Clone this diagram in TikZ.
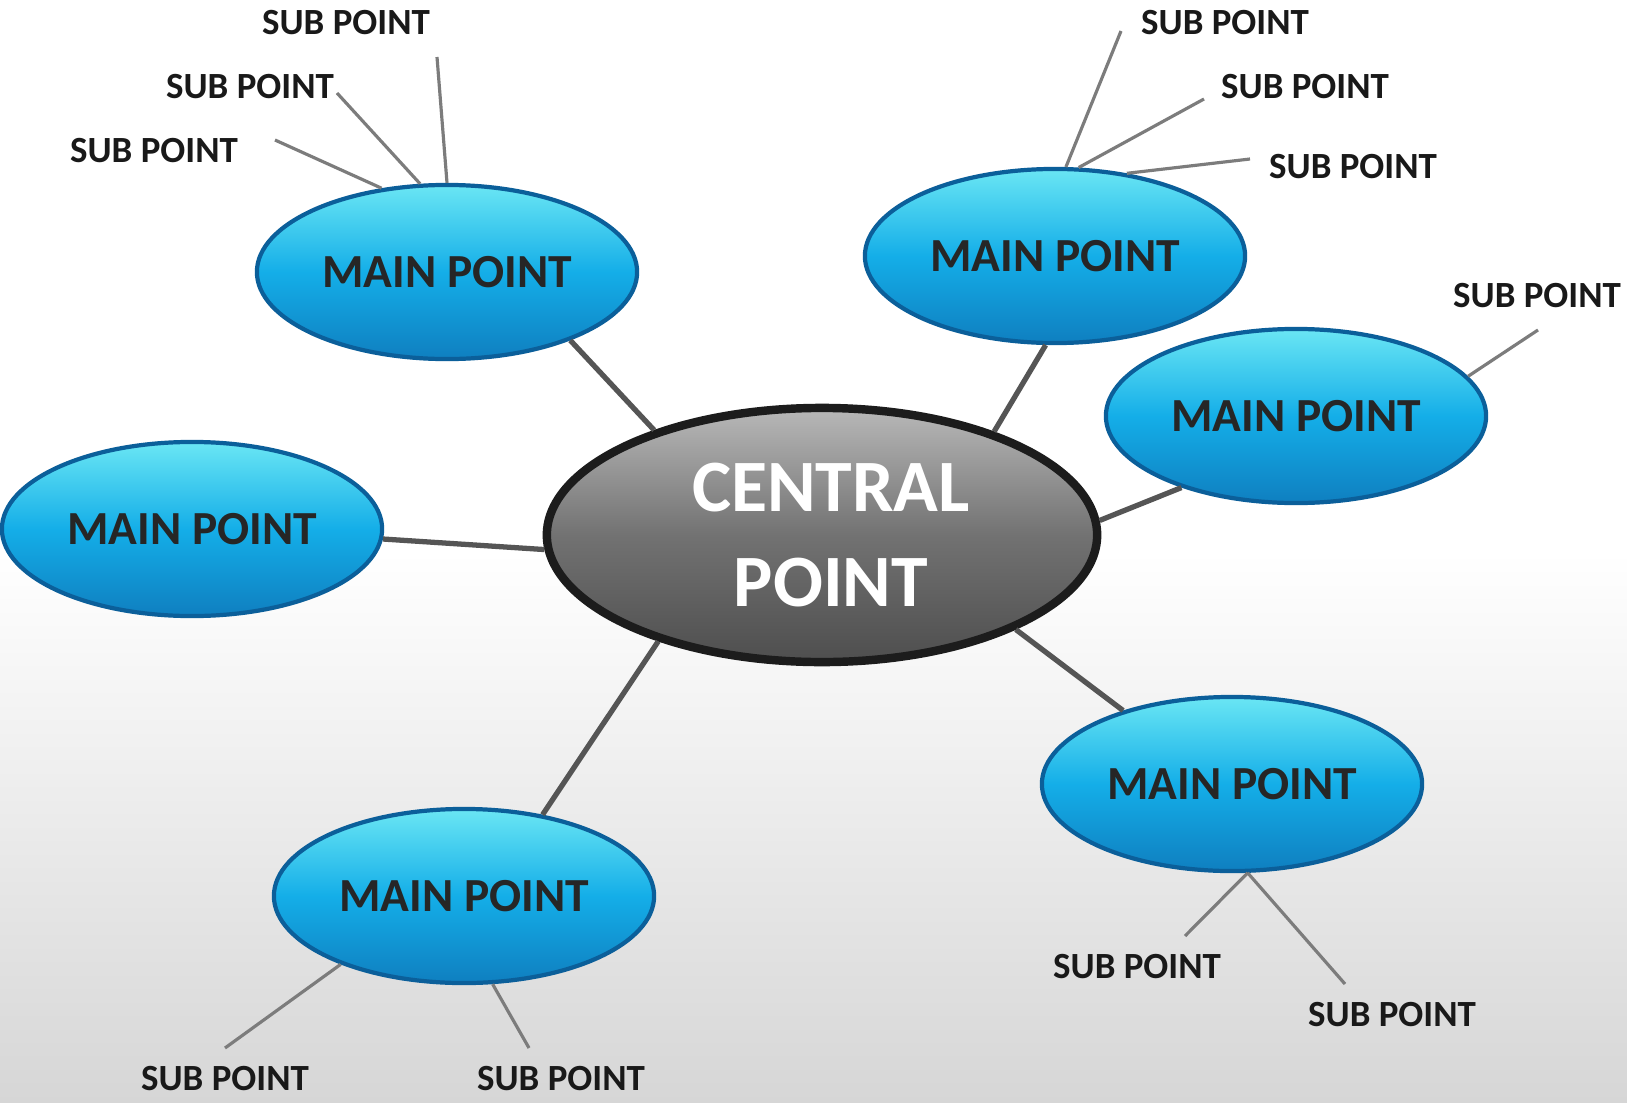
\documentclass[tikz,border=0pt]{standalone}
\usepackage{fontspec}
\setmainfont{Carlito}
\usepackage{tikz}
\usetikzlibrary{shapes.geometric}
\definecolor{bluTop}{HTML}{6AE6F4}
\definecolor{bluMid}{HTML}{14AEE8}
\definecolor{bluBot}{HTML}{0F7FC0}
\definecolor{bluEdge}{HTML}{0B5F9A}
\definecolor{grTop}{HTML}{B8B8B8}
\definecolor{grMid}{HTML}{727272}
\definecolor{grBot}{HTML}{4E4E4E}
\definecolor{grEdge}{HTML}{1C1C1C}
\definecolor{ramoCol}{HTML}{555555}
\definecolor{ramettoCol}{HTML}{7C7C7C}
\definecolor{sfondo}{HTML}{D6D6D6}

\begin{document}
\begin{tikzpicture}[x=0.01cm,y=-0.01cm,
	main/.style = {ellipse,minimum width=3.8cm,minimum height=1.74cm,inner sep=0pt,draw=bluEdge,line width=1.2pt,top color=bluTop,bottom color=bluBot,middle color=bluMid,text=black!85,font=\fontsize{13.5}{16}\selectfont\bfseries},
	centrale/.style = {ellipse,minimum width=5.5cm,minimum height=2.54cm,inner sep=0pt,draw=grEdge,line width=2.4pt,top color=grTop,bottom color=grBot,middle color=grMid,text=white,align=center,font=\fontsize{21}{27}\selectfont\bfseries},
	sub/.style = {text=black!90,font=\fontsize{10.5}{12}\selectfont\bfseries},
	ramo/.style = {draw=ramoCol,line width=1.5pt},
	rametto/.style = {draw=ramettoCol,line width=0.9pt}
	]
	%SFONDO
	\useasboundingbox (0,0) rectangle (1627,1103);
	\shade[top color=white,bottom color=sfondo,middle color=white] (0,0) rectangle (1627,1103);
	%NODO CENTRALE
	\node[centrale] (@c) at (822,535) {\hspace*{0.18cm}CENTRAL\\\hspace*{0.18cm}POINT};
	%PUNTI PRINCIPALI
	\node[main] (@m1) at (447,272) {MAIN POINT};
	\node[main] (@m2) at (1055,256) {MAIN POINT};
	\node[main] (@m3) at (1296,416) {MAIN POINT};
	\node[main] (@m4) at (192,529) {MAIN POINT};
	\node[main] (@m5) at (1232,784) {MAIN POINT};
	\node[main] (@m6) at (464,896) {MAIN POINT};
	%RAMI
	\draw[ramo] (@c.148) to (@m1.-29);
	\draw[ramo] (@c.31) to (@m2.264);
	\draw[ramo] (@c.3) to (@m3.212);
	\draw[ramo] (@c.183) to (@m4.-3);
	\draw[ramo] (@c.-26) to (@m5.146);
	\draw[ramo] (@c.213) to (@m6.46);
	%SOTTOPUNTI
	\node[sub] (@s11) at (346,23) {SUB POINT};
	\node[sub] (@s12) at (250,87) {SUB POINT};
	\node[sub] (@s13) at (154,151) {SUB POINT};
	\node[sub] (@s21) at (1225,23) {SUB POINT};
	\node[sub] (@s22) at (1305,87) {SUB POINT};
	\node[sub] (@s23) at (1353,167) {SUB POINT};
	\node[sub] (@s31) at (1537,296) {SUB POINT};
	\node[sub] (@s51) at (1137,967) {SUB POINT};
	\node[sub] (@s52) at (1392,1015) {SUB POINT};
	\node[sub] (@s61) at (225,1079) {SUB POINT};
	\node[sub] (@s62) at (561,1079) {SUB POINT};
	%ESTREMI DEI RAMETTI
	\coordinate (@e11) at (437,57);
	\coordinate (@e12) at (337,93);
	\coordinate (@e13) at (275,140);
	\coordinate (@e21) at (1121,31);
	\coordinate (@e22) at (1204,99);
	\coordinate (@e23) at (1250,159);
	\coordinate (@e31) at (1538,330);
	\coordinate (@e51) at (1185,936);
	\coordinate (@e52) at (1345,984);
	\coordinate (@e61) at (225,1048);
	\coordinate (@e62) at (529,1048);
	%RAMETTI
	\draw[rametto] (@m1.90) to (@e11);
	\draw[rametto] (@m1.107) to (@e12);
	\draw[rametto] (@m1.128) to (@e13);
	\draw[rametto] (@m2.83) to (@e21);
	\draw[rametto] (@m2.75) to (@e22);
	\draw[rametto] (@m2.49) to (@e23);
	\draw[rametto] (@m3.13) to (@e31);
	\draw[rametto] (@m5.280) to (@e51);
	\draw[rametto] (@m5.280) to (@e52);
	\draw[rametto] (@m6.209) to (@e61);
	\draw[rametto] (@m6.288) to (@e62);
\end{tikzpicture}
\end{document}
